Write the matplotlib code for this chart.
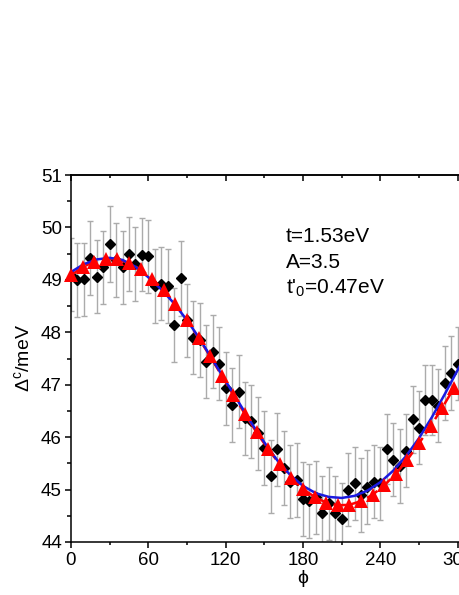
import matplotlib
matplotlib.use("Agg")
import matplotlib.pyplot as plt
from matplotlib.ticker import MultipleLocator

plt.rcParams['font.family'] = ['Liberation Sans', 'DejaVu Sans']
plt.rcParams['mathtext.fontset'] = 'custom'
plt.rcParams['mathtext.rm'] = 'Liberation Sans'
plt.rcParams['mathtext.it'] = 'Liberation Sans'

# measured points (black diamonds), every 5 degrees
phi_exp = [0, 5, 10, 15, 20, 25, 30, 35, 40, 45, 50, 55, 60, 65, 70, 75, 80,
           85, 90, 95, 100, 105, 110, 115, 120, 125, 130, 135, 140, 145, 150,
           155, 160, 165, 170, 175, 180, 185, 190, 195, 200, 205, 210, 215,
           220, 225, 230, 235, 240, 245, 250, 255, 260, 265, 270, 275, 280,
           285, 290, 295, 300]
gap_exp = [49.10, 49.00, 49.01, 49.42, 49.06, 49.24, 49.68, 49.38, 49.24,
           49.49, 49.30, 49.48, 49.45, 48.88, 48.93, 48.88, 48.14, 49.03,
           48.23, 47.90, 47.85, 47.44, 47.63, 47.40, 46.93, 46.61, 46.87,
           46.36, 46.30, 46.07, 45.79, 45.25, 45.77, 45.41, 45.15, 45.18,
           44.82, 44.78, 44.85, 44.55, 44.74, 44.55, 44.43, 45.00, 45.12,
           44.90, 45.05, 45.15, 45.12, 45.78, 45.57, 45.45, 45.74, 46.34,
           46.18, 46.71, 46.71, 46.60, 47.03, 47.22, 47.40]
err_exp = [0.70, 0.71, 0.69, 0.70, 0.70, 0.70, 0.72, 0.70, 0.70, 0.70, 0.70,
           0.70, 0.70, 0.70, 0.70, 0.70, 0.70, 0.71, 0.70, 0.70, 0.70, 0.70,
           0.70, 0.70, 0.70, 0.70, 0.70, 0.70, 0.70, 0.70, 0.70, 0.70, 0.70,
           0.70, 0.70, 0.70, 0.70, 0.70, 0.70, 0.70, 0.70, 0.70, 0.70, 0.70,
           0.70, 0.70, 0.70, 0.70, 0.70, 0.67, 0.70, 0.70, 0.70, 0.64, 0.70,
           0.67, 0.67, 0.70, 0.70, 0.70, 0.70]

# model points (red triangles)
phi_model = [0, 9, 18, 27, 36, 45, 54, 63, 72, 81, 90, 99, 108, 117, 126, 135,
             144, 153, 162, 171, 180, 189, 198, 207, 216, 225, 234, 243, 252,
             261, 270, 279, 288, 297]
gap_model = [49.09, 49.24, 49.35, 49.40, 49.39, 49.32, 49.20, 49.02, 48.80,
             48.53, 48.23, 47.89, 47.54, 47.17, 46.80, 46.44, 46.09, 45.77,
             45.48, 45.22, 45.01, 44.86, 44.75, 44.70, 44.71, 44.78, 44.90,
             45.08, 45.30, 45.57, 45.88, 46.21, 46.56, 46.93]

# fit curve (blue)
phi_fit = [0, 10, 20, 30, 40, 50, 60, 70, 80, 90, 100, 110, 120, 130, 140,
           150, 160, 170, 180, 190, 200, 210, 220, 230, 240, 250, 260, 270,
           280, 290, 300, 310]
gap_fit = [49.15, 49.30, 49.39, 49.42, 49.38, 49.25, 49.05, 48.82, 48.55,
           48.23, 47.87, 47.47, 47.07, 46.67, 46.27, 45.90, 45.56, 45.28,
           45.07, 44.93, 44.86, 44.84, 44.88, 44.98, 45.14, 45.36, 45.64,
           45.98, 46.38, 46.82, 47.28, 47.75]

fig = plt.figure(figsize=(4.6, 5.95), dpi=100)
ax = fig.add_axes([71 / 460, 53 / 595, 464 / 460, 367 / 595])

ax.errorbar(phi_exp, gap_exp, yerr=err_exp, fmt='none', ecolor='#ababab',
            elinewidth=1.0, capsize=2, capthick=1.0, zorder=1)
ax.plot(phi_exp, gap_exp, 'D', color='black', ms=5.4, mec='black', zorder=2)
ax.plot(phi_model, gap_model, color='red', lw=1.8, ls='--', dashes=(5, 2),
        zorder=3)
ax.plot(phi_fit, gap_fit, color='#1a1ae0', lw=1.8, zorder=4)
ax.plot(phi_model, gap_model, '^', color='red', ms=9.5, mec='red', mew=0,
        zorder=5, clip_on=False)

ax.set_xlim(0, 360)
ax.set_ylim(44, 51)
ax.xaxis.set_major_locator(MultipleLocator(60))
ax.xaxis.set_minor_locator(MultipleLocator(30))
ax.yaxis.set_major_locator(MultipleLocator(1))
ax.yaxis.set_minor_locator(MultipleLocator(0.5))

for s in ax.spines.values():
    s.set_linewidth(1.1)
ax.tick_params(axis='x', which='major', direction='out', length=4, width=1.1,
               labelsize=13.5, pad=3)
ax.tick_params(axis='x', which='minor', direction='out', length=2.2, width=1.1)
ax.tick_params(axis='y', which='major', direction='out', length=4.5, width=1.1,
               labelsize=13.5, pad=2)
ax.tick_params(axis='y', which='minor', direction='out', length=2.8, width=1.1)

top = ax.secondary_xaxis('top')
top.xaxis.set_major_locator(MultipleLocator(60))
top.xaxis.set_minor_locator(MultipleLocator(30))
top.tick_params(which='major', direction='in', length=4.5, width=1.1,
                labeltop=False)
top.tick_params(which='minor', direction='in', length=2.5, width=1.1)
top.spines['top'].set_linewidth(1.1)

ax.set_xlabel('ϕ', fontsize=14, labelpad=1)
ax.set_ylabel(r'$\Delta^{\mathrm{c}}$/meV', fontsize=14, labelpad=6)

fig.text(286 / 460, 1 - 242 / 595, 't=1.53eV', fontsize=15, va='baseline')
fig.text(286 / 460, 1 - 268 / 595, 'A=3.5', fontsize=15, va='baseline')
fig.text(286 / 460, 1 - 294 / 595, r"t'$_0$=0.47eV", fontsize=15,
         va='baseline')

fig.savefig('out.png', dpi=100)
